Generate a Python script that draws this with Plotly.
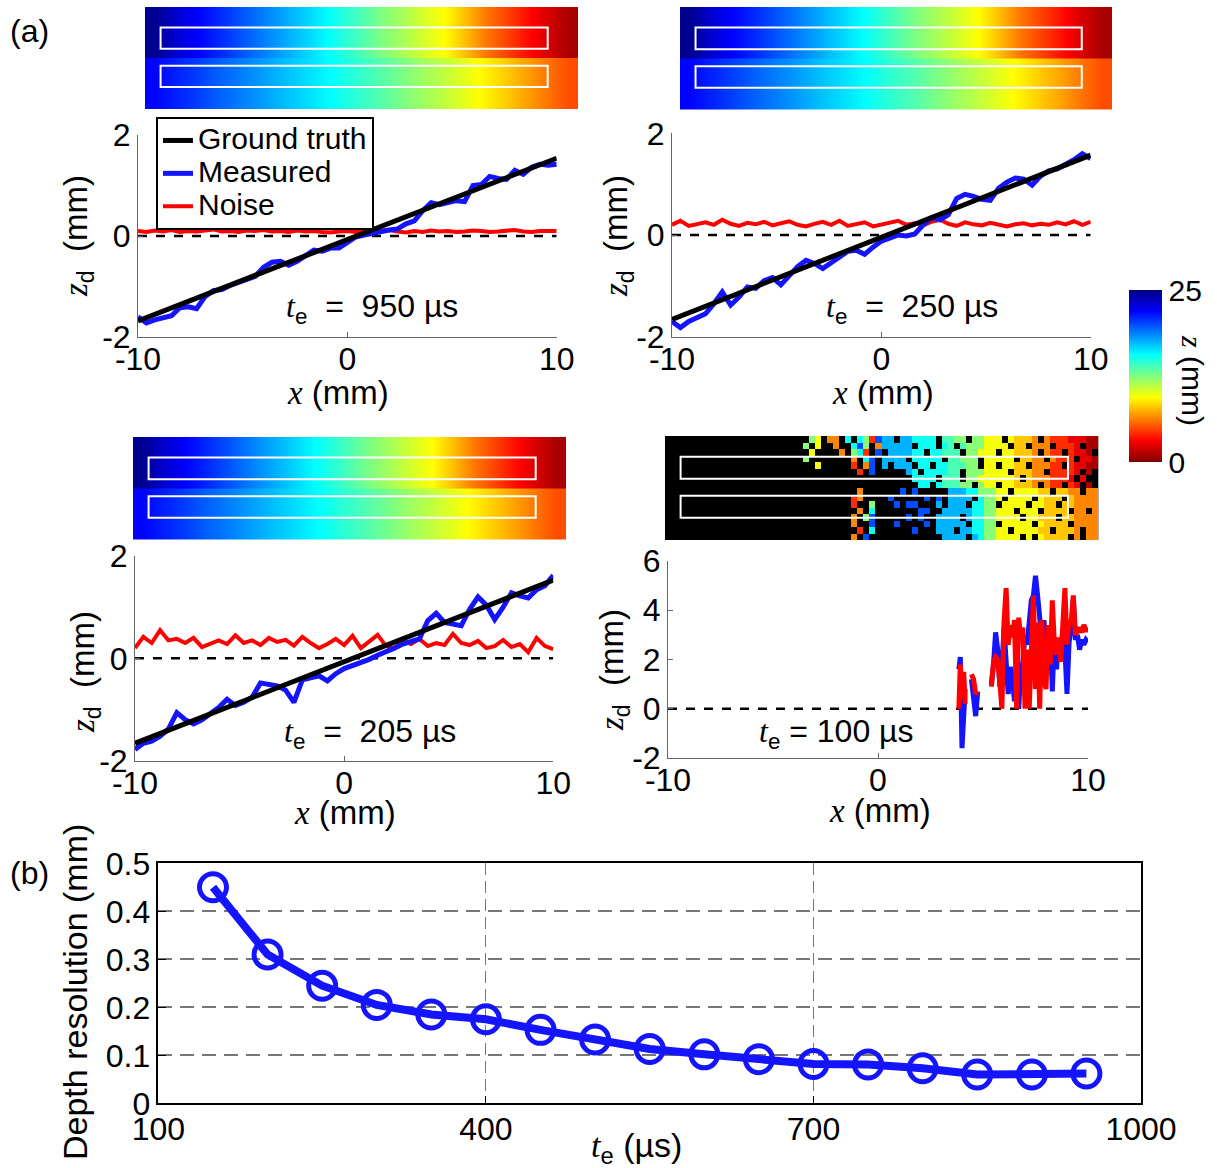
import plotly.graph_objects as go

W, H = 1217, 1168
SANS = "Liberation Sans, Arial, sans-serif"
SERIF = "Liberation Serif"

# ---------------- data ----------------
x_pos = [-10.0, -9.6, -9.2, -8.8, -8.4, -8.0, -7.6, -7.2, -6.8, -6.4, -6.0, -5.6, -5.2, -4.8, -4.4,
         -4.0, -3.6, -3.2, -2.8, -2.4, -2.0, -1.6, -1.2, -0.8, -0.4, 0.0, 0.4, 0.8, 1.2, 1.6, 2.0,
         2.4, 2.8, 3.2, 3.6, 4.0, 4.4, 4.8, 5.2, 5.6, 6.0, 6.4, 6.8, 7.2, 7.6, 8.0, 8.4, 8.8, 9.2,
         9.6, 10.0]
gt_x = [-10, 10]
zero_x = [-10, 10]
zero_y = [0, 0]

gt_950 = [-1.68, 1.54]
measured_950 = [-1.60, -1.72, -1.66, -1.62, -1.58, -1.42, -1.40, -1.44, -1.20, -1.08,
                -1.06, -0.98, -0.92, -0.88, -0.80, -0.62, -0.52, -0.50, -0.58, -0.50,
                -0.40, -0.28, -0.30, -0.24, -0.24, -0.14, -0.02, 0.02, 0.06, 0.10,
                0.12, 0.14, 0.24, 0.30, 0.50, 0.66, 0.62, 0.66, 0.70, 0.68,
                1.00, 1.02, 1.18, 1.14, 1.12, 1.30, 1.22, 1.36, 1.42, 1.40, 1.42]
noise_950 = [0.10, 0.08, 0.11, 0.09, 0.12, 0.08, 0.10, 0.09, 0.11, 0.13,
             0.09, 0.10, 0.08, 0.11, 0.10, 0.12, 0.09, 0.10, 0.08, 0.11,
             0.09, 0.10, 0.08, 0.07, 0.09, 0.10, 0.08, 0.11, 0.09, 0.10,
             0.12, 0.09, 0.07, 0.10, 0.08, 0.11, 0.09, 0.10, 0.08, 0.09,
             0.11, 0.10, 0.08, 0.09, 0.10, 0.12, 0.09, 0.08, 0.10, 0.09, 0.10]

gt_250 = [-1.66, 1.57]
measured_250 = [-1.70, -1.82, -1.70, -1.62, -1.55, -1.35, -1.12, -1.38, -1.22, -1.02,
                -1.05, -0.90, -0.84, -0.98, -0.80, -0.62, -0.50, -0.56, -0.66, -0.55,
                -0.44, -0.32, -0.30, -0.38, -0.24, -0.12, -0.06, 0.00, -0.02, 0.02,
                0.20, 0.34, 0.30, 0.40, 0.72, 0.80, 0.76, 0.70, 0.68, 0.92,
                1.04, 1.12, 1.10, 0.98, 1.16, 1.26, 1.30, 1.38, 1.48, 1.60, 1.50]
noise_250 = [0.20, 0.28, 0.18, 0.22, 0.25, 0.20, 0.30, 0.22, 0.18, 0.24,
             0.21, 0.26, 0.19, 0.23, 0.27, 0.20, 0.17, 0.22, 0.26, 0.20,
             0.28, 0.18, 0.22, 0.25, 0.17, 0.21, 0.24, 0.28, 0.20, 0.23,
             0.19, 0.26, 0.30, 0.22, 0.18, 0.25, 0.21, 0.19, 0.24, 0.20,
             0.17, 0.21, 0.23, 0.19, 0.22, 0.20, 0.25, 0.21, 0.27, 0.20, 0.26]

gt_205 = [-1.66, 1.53]
measured_205 = [-1.78, -1.66, -1.62, -1.52, -1.38, -1.06, -1.20, -1.28, -1.20, -1.08,
                -0.96, -0.80, -0.92, -0.86, -0.76, -0.48, -0.50, -0.54, -0.62, -0.86,
                -0.42, -0.38, -0.34, -0.44, -0.30, -0.20, -0.14, -0.10, -0.02, 0.06,
                0.12, 0.20, 0.28, 0.32, 0.38, 0.74, 0.88, 0.70, 0.68, 0.64,
                0.96, 1.20, 1.04, 0.76, 1.00, 1.28, 1.22, 1.18, 1.34, 1.42, 1.62]
noise_205 = [0.20, 0.42, 0.30, 0.55, 0.35, 0.38, 0.30, 0.40, 0.22, 0.28,
             0.35, 0.28, 0.45, 0.30, 0.35, 0.26, 0.40, 0.32, 0.36, 0.25,
             0.42, 0.30, 0.20, 0.28, 0.38, 0.26, 0.44, 0.20, 0.32, 0.46,
             0.24, 0.20, 0.34, 0.28, 0.38, 0.24, 0.30, 0.26, 0.48, 0.30,
             0.26, 0.34, 0.20, 0.24, 0.36, 0.22, 0.28, 0.12, 0.40, 0.24, 0.18]

x_100 = [3.85, 3.92, 4.0, 4.08, 4.15, None, 4.45, 4.55, 4.65, 4.75, None,
         5.4, 5.5, 5.6, 5.7, 5.8, 5.9, 6.0, 6.1, 6.2, 6.3,
         6.4, 6.5, 6.6, 6.7, 6.8, 6.9, 7.0, 7.1, 7.2, 7.3,
         7.4, 7.5, 7.6, 7.7, 7.8, 7.9, 8.0, 8.1, 8.2, 8.3,
         8.4, 8.5, 8.6, 8.7, 8.8, 8.9, 9.0, 9.1, 9.2, 9.3,
         9.4, 9.5, 9.6, 9.7, 9.8, 9.9, 10.0]
measured_100 = [1.6, 2.1, -1.6, 0.2, 0.8, None, 1.2, 0.6, -0.3, 0.7, None,
                1.0, 1.8, 3.1, 2.4, 0.9, 1.6, 3.3, 1.4, 0.6, 1.7,
                1.2, 0.3, 1.9, 0.0, 1.6, 1.9, 3.0, 2.6, 3.7, 4.4,
                4.6, 5.4, 4.6, 3.8, 2.8, 3.6, 2.4, 1.6, 3.2, 0.7,
                2.9, 1.6, 2.8, 2.6, 3.0, 2.4, 0.6, 2.7, 3.3, 4.5,
                2.8, 3.0, 2.4, 2.8, 2.6, 2.8, 2.7]
noise_100 = [0.0, 1.8, 0.4, 1.5, 0.2, None, 1.4, 1.2, 0.6, 0.7, None,
             0.9, 1.9, 2.1, 2.0, 1.1, 0.0, 3.5, 4.9, 2.6, 3.4,
             2.9, 3.6, 0.0, 3.7, 2.8, 3.3, 0.0, 2.4, 0.0, 3.2,
             4.6, 0.8, 3.5, 0.0, 3.6, 1.2, 0.8, 3.4, 1.8, 4.4,
             2.6, 2.2, 2.9, 1.9, 3.8, 4.9, 2.6, 3.6, 3.4, 4.6,
             3.0, 3.2, 3.3, 3.1, 3.4, 3.2, 3.2]

# depth maps (z in mm), columns left -> right
strip_top_z = [24.6, 23.0, 21.9, 21.0, 20.0, 19.0, 18.0, 17.0, 16.0, 14.9, 13.7,
               12.5, 11.5, 10.4, 9.4, 7.8, 6.1, 4.8, 3.5, 2.2, 1.0]
strip_bottom_z = [21.8, 21.1, 20.4, 19.6, 18.9, 18.2, 17.4, 16.7, 16.0, 15.2, 14.3,
                  13.5, 12.6, 11.7, 10.9, 10.0, 9.1, 8.1, 7.1, 6.0, 5.0]
# 100 us depth map, coded rows (top -> bottom); '.' = no depth
level_codes = {'B': 23.0, 'b': 20.0, 'l': 17.5, 'c': 15.3, 't': 13.8, 'g': 12.3,
               'y': 9.6, 'Y': 8.0, 'o': 6.4, 'r': 4.2, 'R': 2.6, 'd': 1.0}
EMPTY = "......................"
strip_100_rows = [
    EMPTY + "..gy.oo.c.cgrb" + "ll.llcccc.ttgg.ggy" + "yy.yYYYo.orrrRRRdd",
    EMPTY + ".g.y..o..cbg.o" + "lllll.ccc.ct.tgggy" + "yyy.YY.ooo.rrrR.dd",
    EMPTY + "..y....o.gcr.b" + ".llllcc.ccttt.ggyy" + "y.yyYYYo.orr.rRRd.",
    EMPTY + ".g.......o.cb." + "llll.ccccc.ttggg.y" + "yyyy.YYoo.orrr.RRd",
    EMPTY + "...y.....r.ob." + "l.lll.cc.cctttgg.y" + "y.yyYY.ooorr.rRRdd",
    EMPTY + "..........r.b." + "....lc.cccctt.gggy" + "yyy.YYYoo.rrrrR.d.",
    EMPTY + ".............." + ".....cccc.ttt.ggyy" + "yyyyY.YooorrrR.R..",
    EMPTY + ".............." + "......cc.ctttgg.gy" + "y.yyYYYo.orr.rR.d.",
    EMPTY + "..........o..." + "...b.b.....lllccgg" + "gyy.yyyyYY.YYoo.oo",
    EMPTY + ".........ro..." + ".b.....b.b.llll.cg" + "gy.yyyy.yYYY.Yoooo",
    EMPTY + ".........r..g." + "..b.bb...l.lll.ccg" + "g.yyyy.yyYY.YYoooo",
    EMPTY + "..........o.c." + "......bb..lllllccg" + "gyyy.yyy.YYYY.oo.o",
    EMPTY + ".........o.gb." + "....b.b..llll.lccg" + "gyyyy.yyYYY.YYoooo",
    EMPTY + ".........o..b." + "..b....b.lllll.ccg" + "g.yyyyy.yYYYY.oooo",
    EMPTY + "..........r.c." + ".....b...lll.llccg" + "gyy.yyyyYY.YYYo.oo",
    EMPTY + ".........o.b.." + "..........llll.lcg" + "gyyyy.y.yYYYY.o.oo",
]

# panel (b)
te_us = [150, 200, 250, 300, 350, 400, 450, 500, 550, 600, 650, 700, 750, 800, 850, 900, 950]
depth_res = [0.45, 0.31, 0.245, 0.205, 0.185, 0.175, 0.153, 0.133, 0.113, 0.102,
             0.092, 0.082, 0.081, 0.073, 0.06, 0.06, 0.062]

# ---------------- helpers ----------------
def fx(p):
    return p / W

def fy(p):
    return 1 - p / H

def ital(s):
    return f'<span style="font-family:{SERIF}"><i>{s}</i></span>'

def big(s):
    return f'<span style="font-size:30px">{s}</span>'

BLUE = "rgb(20,20,255)"
RED = "rgb(255,0,0)"
jet_r = [[0, 'rgb(128,0,0)'], [0.125, 'rgb(255,0,0)'], [0.375, 'rgb(255,255,0)'],
         [0.625, 'rgb(0,255,255)'], [0.875, 'rgb(0,0,255)'], [1, 'rgb(0,0,128)']]

fig = go.Figure()
layout = {}
shapes = []
annotations = []

panels = [
    (1, (138, 556.7), (135, 337), [-2, 0, 2], [-2, 2]),
    (2, (672, 1090.7), (133.3, 336.7), [-2, 0, 2], [-2, 2]),
    (3, (135, 553.3), (556, 760.7), [-2, 0, 2], [-2, 2]),
    (4, (668, 1088), (561, 758), [-2, 0, 2, 4, 6], [-2, 6]),
]
for idx, (x0, x1), (ytop, ybot), yt, yr in panels:
    layout[f"xaxis{idx}"] = dict(
        domain=[fx(x0), fx(x1)], range=[-10, 10], anchor=f"y{idx}",
        tickvals=[-10, 0, 10], ticktext=["-10", "0", "10"], ticks="inside", ticklen=5,
        tickcolor="#666", showline=True, linecolor="#666", linewidth=1, showgrid=False,
        zeroline=False, ticklabelstandoff=-6,
        tickfont=dict(size=32, family=SANS, color="black"))
    layout[f"yaxis{idx}"] = dict(
        domain=[fy(ybot), fy(ytop)], range=yr, anchor=f"x{idx}",
        tickvals=yt, ticktext=[str(v) for v in yt], ticks="inside", ticklen=5,
        tickcolor="#666", showline=True, linecolor="#666", linewidth=1, showgrid=False,
        zeroline=False, tickfont=dict(size=32, family=SANS, color="black"))

series = [
    (1, gt_950, measured_950, noise_950),
    (2, gt_250, measured_250, noise_250),
    (3, gt_205, measured_205, noise_205),
]
for idx, gt, meas, noise in series:
    xa, ya = f"x{idx}", f"y{idx}"
    leg = idx == 1
    fig.add_trace(go.Scatter(x=zero_x, y=zero_y, mode="lines", xaxis=xa, yaxis=ya,
                             line=dict(color="black", width=2.5, dash="dash"), showlegend=False))
    fig.add_trace(go.Scatter(x=x_pos, y=noise, mode="lines", xaxis=xa, yaxis=ya, name=big("Noise"),
                             line=dict(color=RED, width=4), showlegend=leg, legendrank=3))
    fig.add_trace(go.Scatter(x=x_pos, y=meas, mode="lines", xaxis=xa, yaxis=ya, name=big("Measured"),
                             line=dict(color=BLUE, width=5), showlegend=leg, legendrank=2))
    fig.add_trace(go.Scatter(x=gt_x, y=gt, mode="lines", xaxis=xa, yaxis=ya, name=big("Ground truth"),
                             line=dict(color="black", width=5), showlegend=leg, legendrank=1))

fig.add_trace(go.Scatter(x=zero_x, y=zero_y, mode="lines", xaxis="x4", yaxis="y4",
                         line=dict(color="black", width=2.5, dash="dash"), showlegend=False))
fig.add_trace(go.Scatter(x=x_100, y=measured_100, mode="lines", xaxis="x4", yaxis="y4",
                         line=dict(color=BLUE, width=5), showlegend=False, connectgaps=False))
fig.add_trace(go.Scatter(x=x_100, y=noise_100, mode="lines", xaxis="x4", yaxis="y4",
                         line=dict(color=RED, width=5), showlegend=False, connectgaps=False))

# depth-map strips
strips = [
    (5, (145, 578), (7, 109)),
    (6, (680, 1112), (7, 110)),
    (7, (133, 566), (437, 540)),
]
ncol = len(strip_top_z)
for idx, (x0, x1), (ytop, ybot) in strips:
    layout[f"xaxis{idx}"] = dict(domain=[fx(x0), fx(x1)], range=[-0.5, ncol - 0.5],
                                 anchor=f"y{idx}", visible=False, fixedrange=True)
    layout[f"yaxis{idx}"] = dict(domain=[fy(ybot), fy(ytop)], range=[0, 2],
                                 anchor=f"x{idx}", visible=False, fixedrange=True)
    fig.add_trace(go.Heatmap(z=[strip_top_z, strip_top_z], x=list(range(ncol)), y=[1.25, 1.75],
                             xaxis=f"x{idx}", yaxis=f"y{idx}", coloraxis="coloraxis",
                             zsmooth="best", hoverinfo="skip"))
    fig.add_trace(go.Heatmap(z=[strip_bottom_z, strip_bottom_z], x=list(range(ncol)), y=[0.25, 0.75],
                             xaxis=f"x{idx}", yaxis=f"y{idx}", coloraxis="coloraxis",
                             zsmooth="best", hoverinfo="skip"))

z100 = [[level_codes.get(ch, None) for ch in row] for row in strip_100_rows]
n100 = len(strip_100_rows[0])
layout["xaxis8"] = dict(domain=[fx(665), fx(1098.3)], range=[-0.5, n100 - 0.5], anchor="y8",
                        visible=False, fixedrange=True)
layout["yaxis8"] = dict(domain=[fy(540), fy(436)], range=[len(z100) - 0.5, -0.5], anchor="x8",
                        visible=False, fixedrange=True)
shapes.append(dict(type="rect", xref="x8 domain", yref="y8 domain", x0=0, x1=1, y0=0, y1=1,
                   fillcolor="black", line=dict(width=0), layer="below"))
fig.add_trace(go.Heatmap(z=z100, x=list(range(n100)), y=list(range(len(z100))),
                         xaxis="x8", yaxis="y8", coloraxis="coloraxis", hoverinfo="skip"))

for idx in (5, 6, 7, 8):
    for (ya, yb) in ((0.59, 0.80), (0.215, 0.425)):
        shapes.append(dict(type="rect", xref=f"x{idx} domain", yref=f"y{idx} domain",
                           x0=0.036, x1=0.93, y0=ya, y1=yb, line=dict(color="white", width=2),
                           fillcolor="rgba(0,0,0,0)", layer="above"))

# panel (b)
layout["xaxis9"] = dict(domain=[fx(158.4), fx(1141)], range=[100, 1000], anchor="y9",
                        tickvals=[100, 400, 700, 1000], ticks="inside", ticklen=8, tickcolor="black",
                        showline=True, mirror=True, linecolor="black", linewidth=1.5,
                        showgrid=True, gridcolor="#777", gridwidth=1, griddash="12px,6px",
                        zeroline=False, ticklabelstandoff=-3,
                        tickfont=dict(size=32, family=SANS, color="black"))
layout["yaxis9"] = dict(domain=[fy(1103.3), fy(863.3)], range=[0, 0.5], anchor="x9",
                        tickvals=[0, 0.1, 0.2, 0.3, 0.4, 0.5],
                        ticktext=["0", "0.1", "0.2", "0.3", "0.4", "0.5"],
                        ticks="inside", ticklen=8, tickcolor="black",
                        showline=True, mirror=True, linecolor="black", linewidth=1.5,
                        showgrid=True, gridcolor="#777", gridwidth=2, griddash="14px,8px",
                        zeroline=False, tickfont=dict(size=32, family=SANS, color="black"))
fig.add_trace(go.Scatter(x=te_us, y=depth_res, mode="lines+markers", xaxis="x9", yaxis="y9",
                         line=dict(color=BLUE, width=8),
                         marker=dict(symbol="circle-open", size=27, color=BLUE,
                                     line=dict(width=5, color=BLUE)),
                         showlegend=False, cliponaxis=False))

# ---------------- text ----------------
def ann(text, x, y, size=32, angle=0, xanchor="center", yanchor="middle"):
    annotations.append(dict(text=text, x=fx(x), y=fy(y), xref="paper", yref="paper",
                            showarrow=False, textangle=angle, xanchor=xanchor, yanchor=yanchor,
                            font=dict(size=size, family=SANS, color="black")))

NB = "\u00a0"
xlab = ital("x") + " (mm)"
ylab = ital("z") + "<sub>d</sub>" + NB + NB + "(mm)"
ann("(a)", 8, 31, size=32, xanchor="left")
ann("(b)", 8, 873, size=32, xanchor="left")
ann(xlab, 338, 392, size=33)
ann(xlab, 883, 392, size=33)
ann(xlab, 345, 812, size=33)
ann(xlab, 880, 810, size=33)
ann(ylab, 78, 236, size=33, angle=-90)
ann(ylab, 618, 236, size=33, angle=-90)
ann(ylab, 85, 672, size=33, angle=-90)
ann(ylab, 614, 670, size=33, angle=-90)
te = ital("t") + "<sub>e</sub>"
ann(te + NB + " =" + NB + " 950 µs", 372, 308, size=32)
ann(te + NB + " =" + NB + " 250 µs", 912, 308, size=32)
ann(te + NB + " =" + NB + " 205 µs", 370, 733, size=32)
ann(te + " = 100 µs", 836, 733, size=32)
ann(ital("z") + " (mm)", 1193, 380, size=30, angle=90)
ann("Depth resolution (mm)", 75, 992, size=34, angle=-90)
ann(te + " (µs)", 636, 1147, size=34)

layout.update(dict(
    width=W, height=H, autosize=False,
    margin=dict(l=0, r=0, t=0, b=0, pad=0, autoexpand=False),
    paper_bgcolor="white", plot_bgcolor="white",
    font=dict(family=SANS, color="black"),
    coloraxis=dict(cmin=0, cmax=25, colorscale=jet_r,
                   colorbar=dict(x=fx(1129), xanchor="left", xpad=0, y=fy(376), yanchor="middle",
                                 len=172 / H, lenmode="fraction", thickness=33,
                                 thicknessmode="pixels", outlinewidth=0, ypad=0,
                                 tickvals=[0, 25], ticktext=["0", "25"], ticks="",
                                 tickfont=dict(size=30, family=SANS, color="black"))),
    legend=dict(x=fx(156), y=fy(117), xanchor="left", yanchor="top", bgcolor="white",
                bordercolor="black", borderwidth=2, font=dict(size=23, family=SANS, color="black"),
                tracegroupgap=0, itemwidth=30),
    shapes=shapes,
    annotations=annotations,
))
fig.update_layout(layout)
fig.write_html("out.html")
